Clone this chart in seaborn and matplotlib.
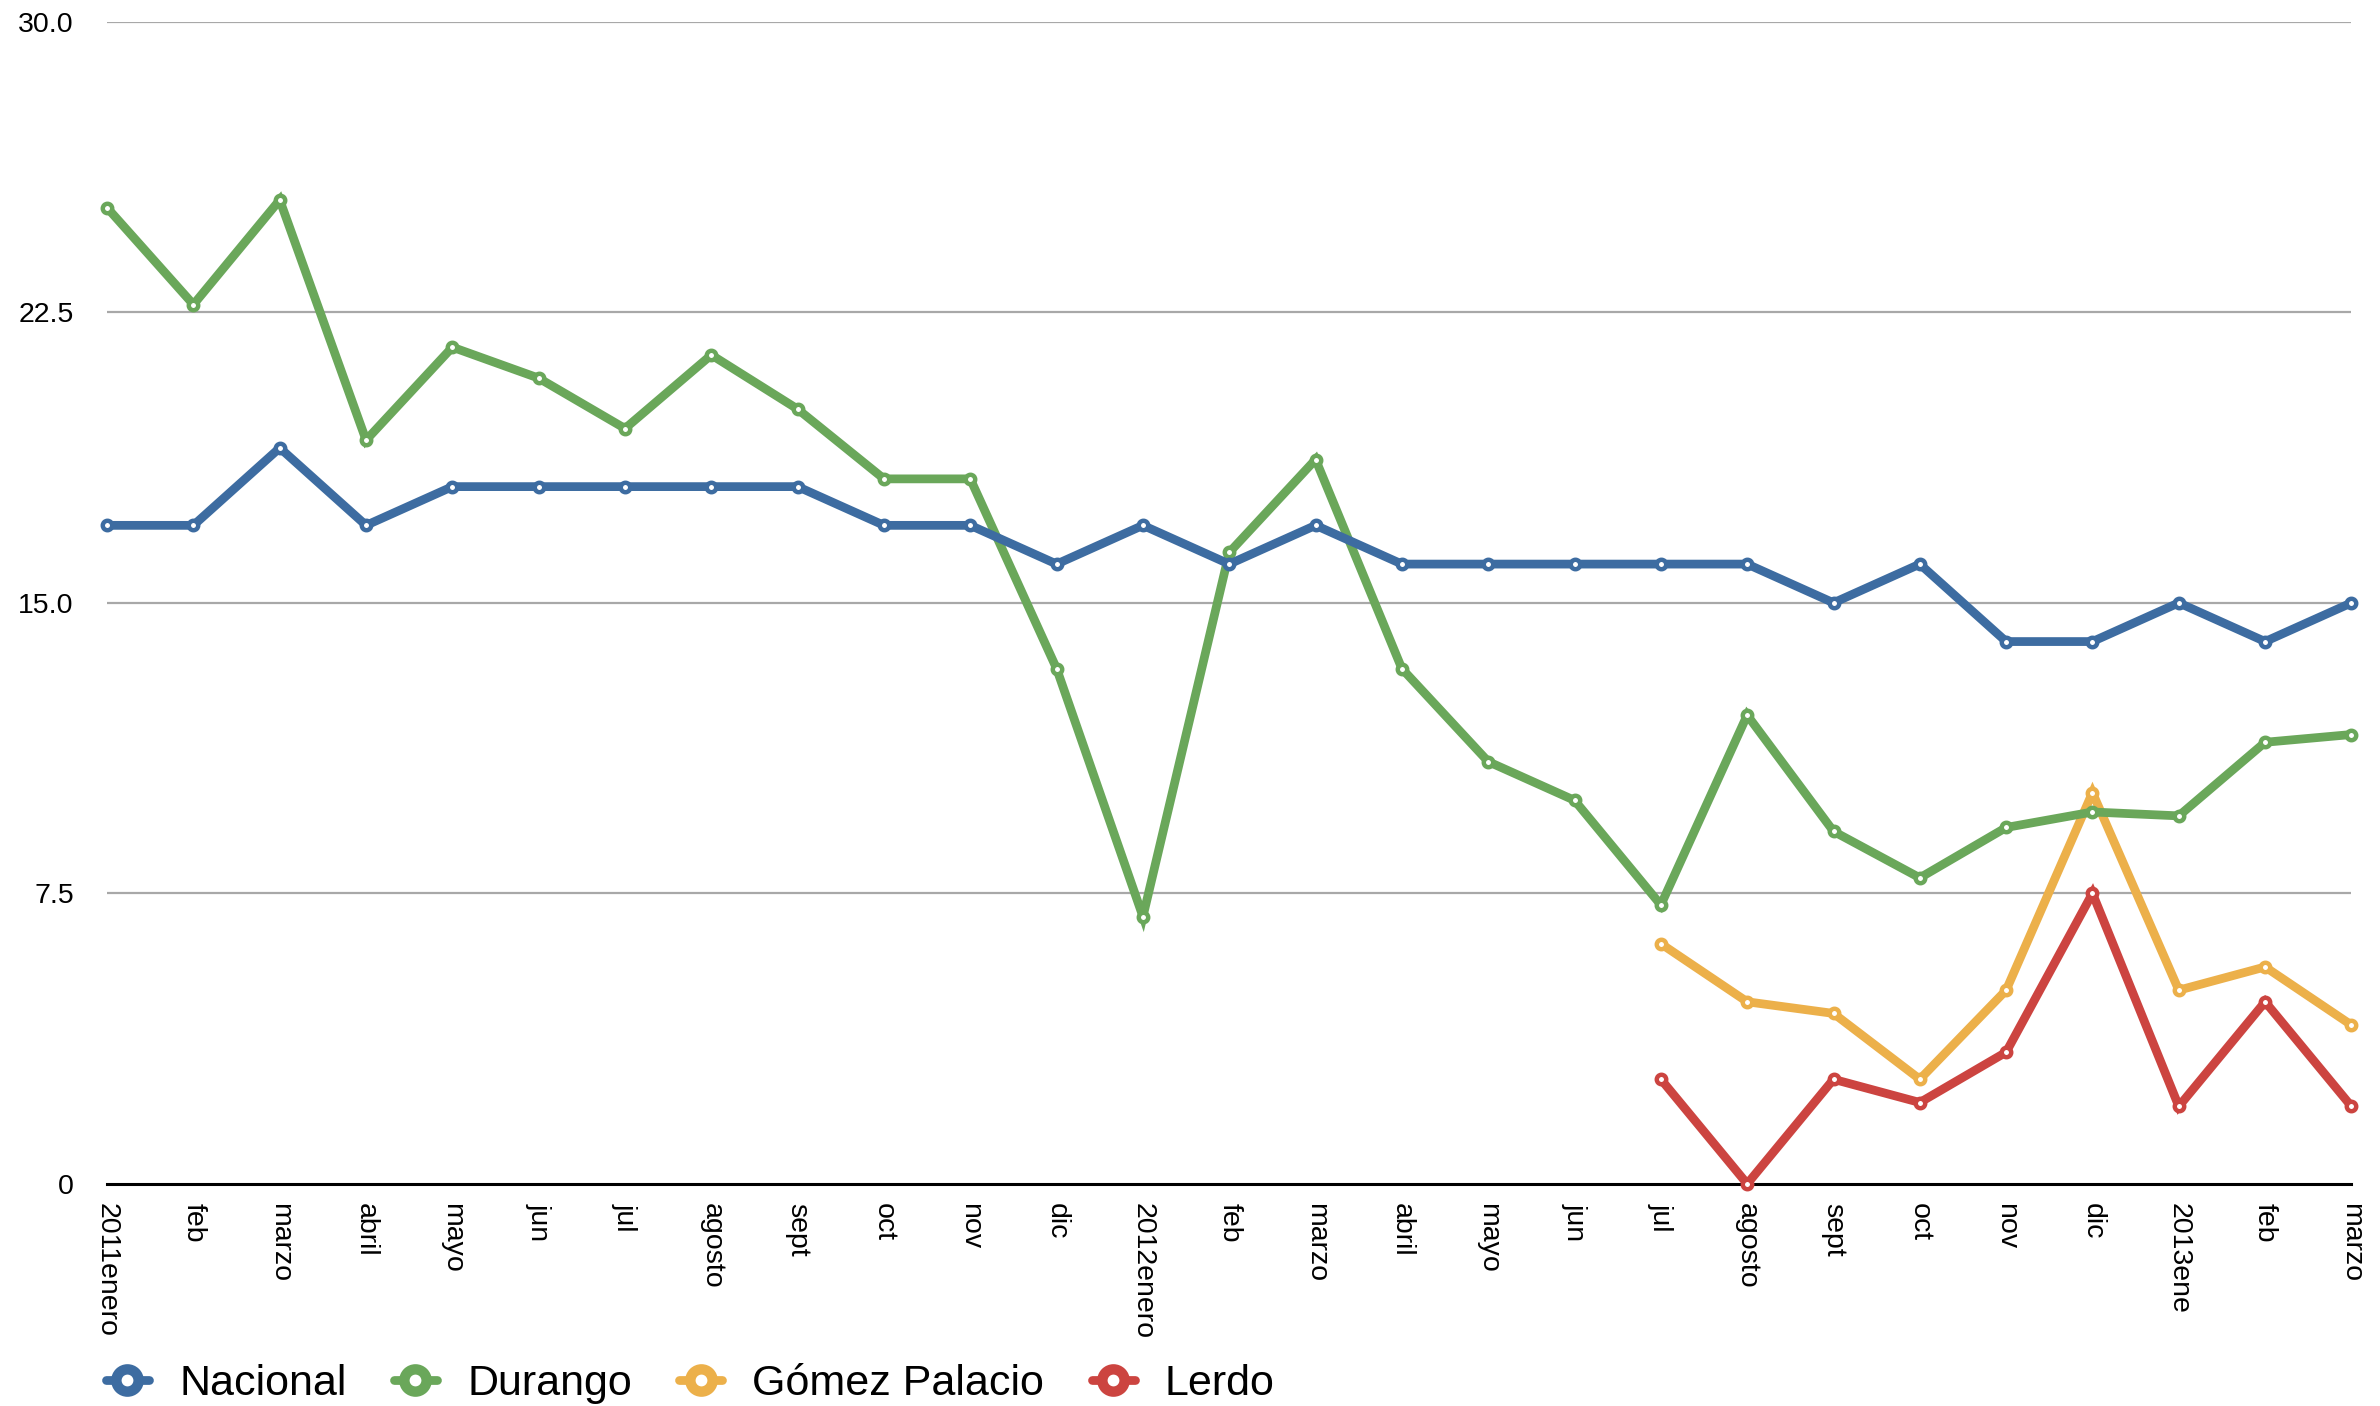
import pandas as pd
import matplotlib.pyplot as plt
import seaborn as sns
from matplotlib.lines import Line2D

sns.set_style("white")
plt.rcParams['font.family'] = ['Liberation Sans', 'DejaVu Sans']
plt.rcParams['text.color'] = 'black'
plt.rcParams['xtick.color'] = 'black'
plt.rcParams['ytick.color'] = 'black'

meses = ["2011enero", "feb", "marzo", "abril", "mayo", "jun", "jul", "agosto",
         "sept", "oct", "nov", "dic", "2012enero", "feb", "marzo", "abril",
         "mayo", "jun", "jul", "agosto", "sept", "oct", "nov", "dic",
         "2013ene", "feb", "marzo"]

nacional = [17, 17, 19, 17, 18, 18, 18, 18, 18, 17, 17, 16, 17, 16, 17, 16,
            16, 16, 16, 16, 15, 16, 14, 14, 15, 14, 15]
durango = [25.2, 22.7, 25.4, 19.2, 21.6, 20.8, 19.5, 21.4, 20.0, 18.2, 18.2,
           13.3, 6.9, 16.3, 18.7, 13.3, 10.9, 9.9, 7.2, 12.1, 9.1, 7.9, 9.2,
           9.6, 9.5, 11.4, 11.6]
# these two series start in jul 2012
inicio_local = 18
gomez_palacio = [6.2, 4.7, 4.4, 2.7, 5.0, 10.1, 5.0, 5.6, 4.1]
lerdo = [2.7, 0.0, 2.7, 2.1, 3.4, 7.5, 2.0, 4.7, 2.0]

series = ["Nacional", "Durango", "Gómez Palacio", "Lerdo"]
colores = ["#3d6ca1", "#6aa75a", "#ecb04a", "#cc4440"]

rows = []
for i, v in enumerate(nacional):
    rows.append((i, v, "Nacional"))
for i, v in enumerate(durango):
    rows.append((i, v, "Durango"))
for i, v in enumerate(gomez_palacio):
    rows.append((inicio_local + i, v, "Gómez Palacio"))
for i, v in enumerate(lerdo):
    rows.append((inicio_local + i, v, "Lerdo"))
df = pd.DataFrame(rows, columns=["mes", "valor", "serie"])

fig = plt.figure(figsize=(23.8, 14.06), dpi=100)
ax = fig.add_axes([0.045, 0.158, 0.943, 0.8265])

sns.lineplot(data=df, x="mes", y="valor", hue="serie", hue_order=series,
             palette=colores, estimator=None, errorbar=None, sort=True,
             linewidth=6.3, marker="o", markersize=6.8, markeredgewidth=3.2,
             markerfacecolor="white", clip_on=False, legend=False, ax=ax)

for i, line in enumerate(ax.lines):
    line.set_zorder(10 - i)
    line.set_markeredgecolor(colores[i])
    line.set_solid_joinstyle("miter")

ax.set_xlim(0, len(meses) - 1)
ax.set_ylim(0, 30)
ax.set_xticks(range(len(meses)))
ax.set_xticklabels(meses, rotation=270, ha="center", va="top", fontsize=20.5)
ax.set_yticks([0, 7.5, 15, 22.5, 30])
ax.set_yticklabels(["0", "7.5", "15.0", "22.5", "30.0"], fontsize=20.5)
ax.tick_params(axis="x", length=0, pad=14)
ax.tick_params(axis="y", length=0, pad=24)
ax.set_xlabel("")
ax.set_ylabel("")

for y in [7.5, 15, 22.5, 30]:
    ax.axhline(y, color="#a8a8a8", linewidth=1.6, zorder=0)

for s in ["top", "right", "left"]:
    ax.spines[s].set_visible(False)
ax.spines["bottom"].set_color("black")
ax.spines["bottom"].set_linewidth(2.2)
ax.spines["bottom"].set_zorder(1)

handles = [Line2D([0], [0], color=c, linewidth=6.3, marker="o", markersize=16,
                  markeredgewidth=7.5, markerfacecolor="white", markeredgecolor=c)
           for c in colores]
fig.legend(handles, series, loc="center left", bbox_to_anchor=(0.0445, 0.0155),
           ncol=4, frameon=False, fontsize=31, handlelength=1.0,
           handletextpad=0.7, columnspacing=1.1, borderpad=0, borderaxespad=0)

fig.savefig("out.png", dpi=100)
